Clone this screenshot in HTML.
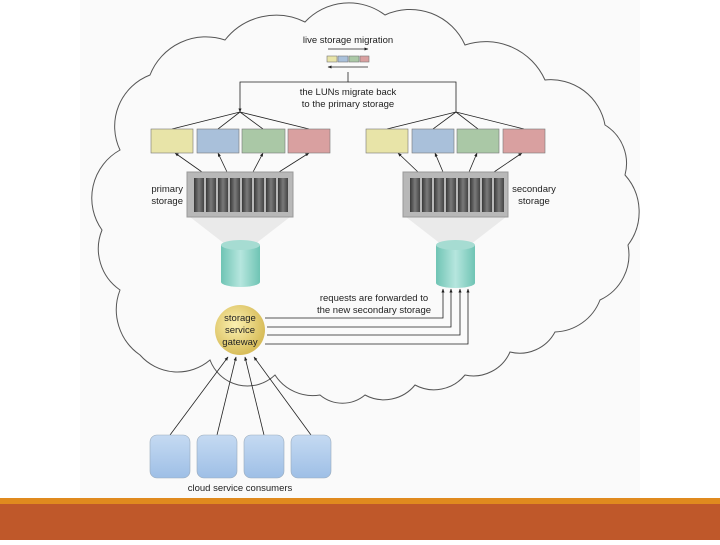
<!DOCTYPE html>
<html><head><meta charset="utf-8"><style>
body{margin:0;width:720px;height:540px;background:#fff;overflow:hidden;font-family:"Liberation Sans",sans-serif}
</style></head><body>
<svg width="720" height="540" viewBox="0 0 720 540" xmlns="http://www.w3.org/2000/svg" font-family="Liberation Sans, sans-serif">
<defs>
<marker id="a" viewBox="0 0 10 10" refX="9" refY="5" markerWidth="5" markerHeight="5" orient="auto"><path d="M0,1L10,5L0,9z" fill="#222"/></marker>
<linearGradient id="cyl" x1="0" x2="1"><stop offset="0" stop-color="#6fc4b4"/><stop offset=".5" stop-color="#b6e6de"/><stop offset="1" stop-color="#6fc4b4"/></linearGradient>
<radialGradient id="gw" cx=".4" cy=".4" r=".6"><stop offset="0" stop-color="#fbf0b0"/><stop offset="1" stop-color="#d8bd5a"/></radialGradient>
<linearGradient id="cons" x1="0" y1="0" x2="0" y2="1"><stop offset="0" stop-color="#c5daf2"/><stop offset="1" stop-color="#9ebfe6"/></linearGradient>
<linearGradient id="disk" x1="0" x2="1"><stop offset="0" stop-color="#3a3a3a"/><stop offset=".5" stop-color="#7a7a7a"/><stop offset="1" stop-color="#444"/></linearGradient>
</defs>
<rect x="80" y="0" width="560" height="498" fill="#fafafa"/>
<rect x="0" y="498" width="720" height="6" fill="#e08a1e"/>
<rect x="0" y="504" width="720" height="36" fill="#bf582a"/>
<path d="M120,150 A55,55 0 0 1 150,75 A60,60 0 0 1 225,40 A65,65 0 0 1 305,22 A60,60 0 0 1 385,15 A60,60 0 0 1 465,45 A65,65 0 0 1 545,80 A55,55 0 0 1 605,125 A45,45 0 0 1 625,175 A55,55 0 0 1 628,245 A50,50 0 0 1 600,300 A50,50 0 0 1 555,332 A40,40 0 0 1 510,352 A40,40 0 0 1 465,375 A40,40 0 0 1 415,385 A40,40 0 0 1 365,395 A35,35 0 0 1 320,395 A45,45 0 0 1 275,375 A40,40 0 0 1 210,360 A50,50 0 0 1 140,355 A55,55 0 0 1 120,290 A50,50 0 0 1 102,230 A55,55 0 0 1 120,150 Z" fill="#fafafa" stroke="#555" stroke-width="1"/>
<g font-size="9.5" fill="#222" text-anchor="middle">
<text x="348" y="43">live storage migration</text>
<text x="348" y="95">the LUNs migrate back</text>
<text x="348" y="107">to the primary storage</text>
<text x="183" y="192" text-anchor="end">primary</text><text x="183" y="204" text-anchor="end">storage</text>
<text x="534" y="192">secondary</text><text x="534" y="204">storage</text>
<text x="374" y="301">requests are forwarded to</text>
<text x="374" y="313">the new secondary storage</text>
<text x="240" y="491">cloud service consumers</text>
</g>
<g stroke="#222" stroke-width="0.8" fill="none">
<line x1="328" y1="49" x2="368" y2="49" marker-end="url(#a)"/>
<line x1="368" y1="67" x2="328" y2="67" marker-end="url(#a)"/>
<polyline points="348,72 348,82 240,82 240,112" marker-end="url(#a)"/>
<polyline points="348,82 456,82 456,112"/>
<line x1="240" y1="112" x2="172" y2="129"/><line x1="240" y1="112" x2="218" y2="129"/><line x1="240" y1="112" x2="263" y2="129"/><line x1="240" y1="112" x2="309" y2="129"/>
<line x1="456" y1="112" x2="387" y2="129"/><line x1="456" y1="112" x2="433" y2="129"/><line x1="456" y1="112" x2="478" y2="129"/><line x1="456" y1="112" x2="524" y2="129"/>
<line x1="202" y1="172" x2="175" y2="153" marker-end="url(#a)"/><line x1="227" y1="172" x2="218" y2="153" marker-end="url(#a)"/><line x1="253" y1="172" x2="263" y2="153" marker-end="url(#a)"/><line x1="279" y1="172" x2="309" y2="153" marker-end="url(#a)"/>
<line x1="418" y1="172" x2="398" y2="153" marker-end="url(#a)"/><line x1="443" y1="172" x2="435" y2="153" marker-end="url(#a)"/><line x1="469" y1="172" x2="477" y2="153" marker-end="url(#a)"/><line x1="494" y1="172" x2="522" y2="153" marker-end="url(#a)"/>
<polyline points="265,318 443,318 443,289" marker-end="url(#a)"/>
<polyline points="267,327 451,327 451,289" marker-end="url(#a)"/>
<polyline points="267,335 460,335 460,289" marker-end="url(#a)"/>
<polyline points="265,344 468,344 468,289" marker-end="url(#a)"/>
<line x1="170" y1="435" x2="228" y2="357" marker-end="url(#a)"/>
<line x1="217" y1="435" x2="236" y2="357" marker-end="url(#a)"/>
<line x1="264" y1="435" x2="245" y2="357" marker-end="url(#a)"/>
<line x1="311" y1="435" x2="254" y2="357" marker-end="url(#a)"/>
</g>
<g stroke="#777" stroke-width="0.6">
<rect x="327" y="56" width="10" height="6" fill="#e8e4a8"/><rect x="338" y="56" width="10" height="6" fill="#a9c0da"/><rect x="349" y="56" width="10" height="6" fill="#aac8a6"/><rect x="360" y="56" width="9" height="6" fill="#d9a0a0"/>
<rect x="151" y="129" width="42" height="24" fill="#e8e4a8"/><rect x="197" y="129" width="42" height="24" fill="#a9c0da"/><rect x="242" y="129" width="43" height="24" fill="#aac8a6"/><rect x="288" y="129" width="42" height="24" fill="#d9a0a0"/>
<rect x="366" y="129" width="42" height="24" fill="#e8e4a8"/><rect x="412" y="129" width="42" height="24" fill="#a9c0da"/><rect x="457" y="129" width="42" height="24" fill="#aac8a6"/><rect x="503" y="129" width="42" height="24" fill="#d9a0a0"/>
</g>
<g fill="#e6e6e6" opacity="0.8"><polygon points="190,217 290,217 250,248 230,248"/><polygon points="406,217 506,217 466,248 446,248"/></g>
<g>
<rect x="187" y="172" width="106" height="45" fill="#b8b8b8" stroke="#999"/>
<rect x="403" y="172" width="105" height="45" fill="#b8b8b8" stroke="#999"/>
<g fill="url(#disk)">
<rect x="194" y="178" width="10" height="34"/><rect x="206" y="178" width="10" height="34"/><rect x="218" y="178" width="10" height="34"/><rect x="230" y="178" width="10" height="34"/><rect x="242" y="178" width="10" height="34"/><rect x="254" y="178" width="10" height="34"/><rect x="266" y="178" width="10" height="34"/><rect x="278" y="178" width="10" height="34"/>
<rect x="410" y="178" width="10" height="34"/><rect x="422" y="178" width="10" height="34"/><rect x="434" y="178" width="10" height="34"/><rect x="446" y="178" width="10" height="34"/><rect x="458" y="178" width="10" height="34"/><rect x="470" y="178" width="10" height="34"/><rect x="482" y="178" width="10" height="34"/><rect x="494" y="178" width="10" height="34"/>
</g></g>
<g fill="url(#cyl)">
<path d="M221,245 v37 a19.5,5 0 0 0 39,0 v-37z"/><ellipse cx="240.5" cy="245" rx="19.5" ry="5" fill="#a6dcd2"/>
<path d="M436,245 v38 a19.5,5 0 0 0 39,0 v-38z"/><ellipse cx="455.5" cy="245" rx="19.5" ry="5" fill="#a6dcd2"/>
</g>
<circle cx="240" cy="330" r="25" fill="url(#gw)"/>
<g font-size="9.5" fill="#222" text-anchor="middle">
<text x="240" y="321">storage</text><text x="240" y="333">service</text><text x="240" y="345">gateway</text>
</g>
<g fill="url(#cons)" stroke="#9ab" stroke-width="0.6">
<rect x="150" y="435" width="40" height="43" rx="7"/><rect x="197" y="435" width="40" height="43" rx="7"/><rect x="244" y="435" width="40" height="43" rx="7"/><rect x="291" y="435" width="40" height="43" rx="7"/>
</g>
</svg>
</body></html>
